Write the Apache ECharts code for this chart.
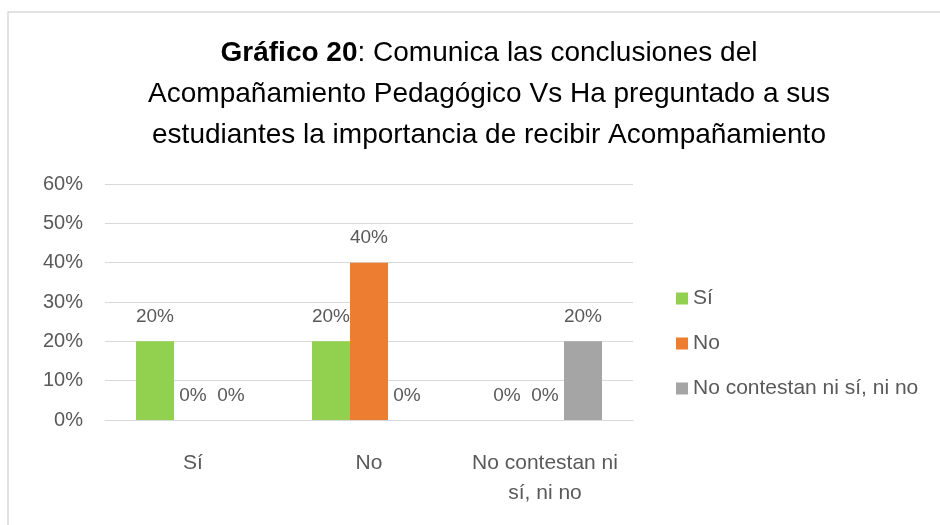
<!DOCTYPE html>
<html><head><meta charset="utf-8">
<script src="https://cdn.jsdelivr.net/npm/echarts@6/dist/echarts.min.js"></script>
<style>html,body{margin:0;padding:0;background:#fff}#c{width:940px;height:525px}</style>
</head><body><div id="c"></div>
<script>
const categories = ['Sí', 'No', 'No contestan ni\nsí, ni no'];
const seriesNames = ['Sí', 'No', 'No contestan ni sí, ni no'];
const valSi = [20, 20, 0];
const valNo = [0, 40, 0];
const valNC = [0, 0, 20];
const colors = ['#92D050', '#ED7D31', '#A5A5A5'];
const yTicks = [0, 10, 20, 30, 40, 50, 60];

const FONT = "'Liberation Sans', 'DejaVu Sans', sans-serif";
const TXT = '#595959';
const chart = echarts.init(document.getElementById('c'));
const mk = (name, data, color) => ({
  name, type: 'bar', data, barWidth: 38, barGap: '0%',
  itemStyle: { color },
  label: { show: true, position: 'top', distance: 15, formatter: p => p.value + '%',
    color: TXT, fontSize: 19, fontFamily: FONT }
});
chart.setOption({
  animation: false,
  backgroundColor: '#fff',
  graphic: [{ type: 'rect', shape: { x: 8, y: 12, width: 940, height: 520 },
    style: { fill: 'none', stroke: '#d9d9d9', lineWidth: 1.5 }, silent: true }],
  title: {
    text: '{b|Gráfico 20}: Comunica las conclusiones del\nAcompañamiento Pedagógico Vs Ha preguntado a sus\nestudiantes la importancia de recibir Acompañamiento',
    left: 484, textAlign: 'center', top: 28,
    textStyle: { fontFamily: FONT, fontSize: 28, fontWeight: 'normal', color: '#000', lineHeight: 41,
      rich: { b: { fontWeight: 'bold', fontSize: 28, fontFamily: FONT, color: '#000', lineHeight: 41 } } }
  },
  legend: {
    orient: 'vertical', left: 671, top: 283, itemGap: 24, itemWidth: 12, itemHeight: 12,
    icon: 'rect', data: seriesNames,
    textStyle: { color: TXT, fontSize: 21, fontFamily: FONT }
  },
  grid: { left: 105, right: 307, top: 184, bottom: 105, containLabel: false },
  xAxis: {
    type: 'category', data: categories,
    axisLine: { show: true, lineStyle: { color: '#d9d9d9' } }, axisTick: { show: false },
    axisLabel: { interval: 0, color: TXT, fontSize: 21, fontFamily: FONT, margin: 28, lineHeight: 30 }
  },
  yAxis: {
    type: 'value', min: 0, max: 60, interval: 10,
    axisLabel: { formatter: v => yTicks.includes(v) ? v + '%' : '', color: TXT, fontSize: 20, fontFamily: FONT, margin: 22 },
    splitLine: { lineStyle: { color: '#d9d9d9' } },
    axisLine: { show: false }, axisTick: { show: false }
  },
  series: [mk(seriesNames[0], valSi, colors[0]), mk(seriesNames[1], valNo, colors[1]), mk(seriesNames[2], valNC, colors[2])]
});
</script></body></html>
